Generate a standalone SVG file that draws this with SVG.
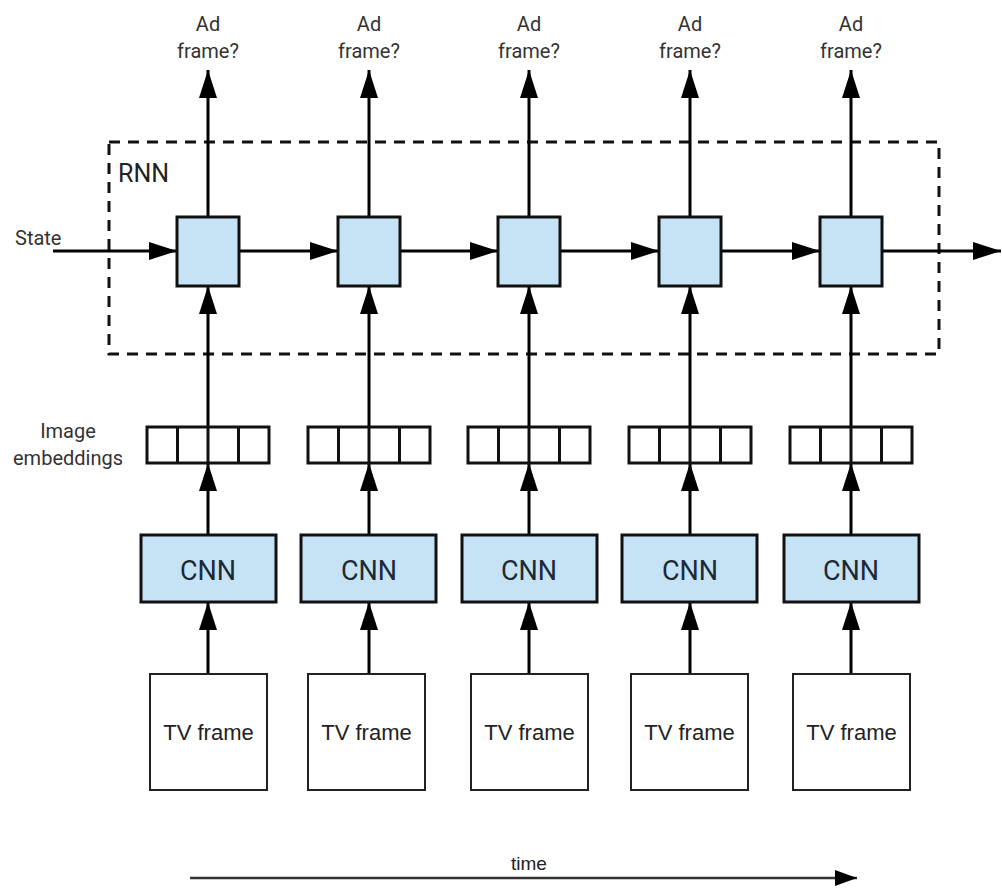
<svg xmlns="http://www.w3.org/2000/svg" width="1002" height="888" viewBox="0 0 1002 888">
<defs>
<style>
.lbl{font-family:Roboto,"Liberation Sans",sans-serif;fill:#333;font-size:20px;text-anchor:middle}
.cnnt{font-family:Roboto,"Liberation Sans",sans-serif;fill:#1c2a38;font-size:27px;text-anchor:middle}
.tv{font-family:"Liberation Sans",Arial,sans-serif;fill:#222;font-size:22px;text-anchor:middle}
.blue{fill:#c6e3f5;stroke:#111;stroke-width:3}
.white{fill:#fff;stroke:#111;stroke-width:3}
.thin{fill:#fff;stroke:#222;stroke-width:2}
.con{stroke:#000;stroke-width:3;fill:none;marker-end:url(#ah)}
</style>
<marker id="ah" markerUnits="userSpaceOnUse" markerWidth="28" markerHeight="20" refX="28" refY="10" orient="auto">
<path d="M0,1 L28,10 L0,19 Z" fill="#000"/>
</marker>
<marker id="ah2" markerUnits="userSpaceOnUse" markerWidth="22" markerHeight="18" refX="22" refY="9" orient="auto">
<path d="M0,1 L22,9 L0,17 Z" fill="#000"/>
</marker>
</defs>
<rect width="1002" height="888" fill="#fff"/>

<g id="rnn-box">
<rect x="109" y="142" width="830" height="212" fill="none" stroke="#111" stroke-width="3" stroke-dasharray="11,8"/>
<text x="118" y="182" font-family="Roboto,'Liberation Sans',sans-serif" font-size="25" fill="#222">RNN</text>
</g>

<g id="connectors">
<line class="con" x1="53" y1="251" x2="177" y2="251"/>
<line class="con" x1="238" y1="251" x2="338" y2="251"/>
<line class="con" x1="400" y1="251" x2="498" y2="251"/>
<line class="con" x1="560" y1="251" x2="659" y2="251"/>
<line class="con" x1="721" y1="251" x2="820" y2="251"/>
<line class="con" x1="882" y1="251" x2="1001" y2="251"/>

<line class="con" x1="208" y1="217" x2="208" y2="70"/>
<line class="con" x1="369" y1="217" x2="369" y2="70"/>
<line class="con" x1="529" y1="217" x2="529" y2="70"/>
<line class="con" x1="690" y1="217" x2="690" y2="70"/>
<line class="con" x1="851" y1="217" x2="851" y2="70"/>

<line class="con" x1="208" y1="445" x2="208" y2="286"/>
<line class="con" x1="369" y1="445" x2="369" y2="286"/>
<line class="con" x1="529" y1="445" x2="529" y2="286"/>
<line class="con" x1="690" y1="445" x2="690" y2="286"/>
<line class="con" x1="851" y1="445" x2="851" y2="286"/>

<line class="con" x1="208" y1="535" x2="208" y2="463"/>
<line class="con" x1="369" y1="535" x2="369" y2="463"/>
<line class="con" x1="529" y1="535" x2="529" y2="463"/>
<line class="con" x1="690" y1="535" x2="690" y2="463"/>
<line class="con" x1="851" y1="535" x2="851" y2="463"/>

<line class="con" x1="208" y1="674" x2="208" y2="602"/>
<line class="con" x1="369" y1="674" x2="369" y2="602"/>
<line class="con" x1="529" y1="674" x2="529" y2="602"/>
<line class="con" x1="690" y1="674" x2="690" y2="602"/>
<line class="con" x1="851" y1="674" x2="851" y2="602"/>

<line x1="190" y1="878" x2="857" y2="878" stroke="#333" stroke-width="2.5" marker-end="url(#ah2)"/>
</g>

<g id="labels">
<text class="lbl" x="208" y="31">Ad</text><text class="lbl" x="208" y="58">frame?</text>
<text class="lbl" x="369" y="31">Ad</text><text class="lbl" x="369" y="58">frame?</text>
<text class="lbl" x="529" y="31">Ad</text><text class="lbl" x="529" y="58">frame?</text>
<text class="lbl" x="690" y="31">Ad</text><text class="lbl" x="690" y="58">frame?</text>
<text class="lbl" x="851" y="31">Ad</text><text class="lbl" x="851" y="58">frame?</text>
<text class="lbl" x="15" y="245" style="text-anchor:start">State</text>
<text class="lbl" x="68" y="438">Image</text>
<text class="lbl" x="68" y="465">embeddings</text>
<text x="529" y="870" font-family="'Liberation Sans',Arial,sans-serif" font-size="19" fill="#222" text-anchor="middle">time</text>
</g>

<g id="rnn-cells">
<rect class="blue" x="177" y="217" width="62" height="69"/>
<rect class="blue" x="338" y="217" width="62" height="69"/>
<rect class="blue" x="498" y="217" width="62" height="69"/>
<rect class="blue" x="659" y="217" width="62" height="69"/>
<rect class="blue" x="820" y="217" width="62" height="69"/>
</g>

<g id="embeddings">
<g id="emb1"><rect class="white" x="147" y="427" width="122" height="36"/><path d="M177.5,427V463M208,427V463M238.5,427V463" stroke="#111" stroke-width="3"/></g>
<g id="emb2"><rect class="white" x="308" y="427" width="122" height="36"/><path d="M338.5,427V463M369,427V463M399.5,427V463" stroke="#111" stroke-width="3"/></g>
<g id="emb3"><rect class="white" x="468" y="427" width="122" height="36"/><path d="M498.5,427V463M529,427V463M559.5,427V463" stroke="#111" stroke-width="3"/></g>
<g id="emb4"><rect class="white" x="629" y="427" width="122" height="36"/><path d="M659.5,427V463M690,427V463M720.5,427V463" stroke="#111" stroke-width="3"/></g>
<g id="emb5"><rect class="white" x="790" y="427" width="122" height="36"/><path d="M820.5,427V463M851,427V463M881.5,427V463" stroke="#111" stroke-width="3"/></g>
</g>

<g id="cnns">
<g id="cnn1"><rect class="blue" x="141" y="535" width="135" height="67"/><text class="cnnt" x="208" y="580">CNN</text></g>
<g id="cnn2"><rect class="blue" x="301" y="535" width="135" height="67"/><text class="cnnt" x="369" y="580">CNN</text></g>
<g id="cnn3"><rect class="blue" x="462" y="535" width="135" height="67"/><text class="cnnt" x="529" y="580">CNN</text></g>
<g id="cnn4"><rect class="blue" x="622" y="535" width="135" height="67"/><text class="cnnt" x="690" y="580">CNN</text></g>
<g id="cnn5"><rect class="blue" x="784" y="535" width="135" height="67"/><text class="cnnt" x="851" y="580">CNN</text></g>
</g>

<g id="tvframes">
<g id="tv1"><rect class="thin" x="150" y="674" width="117" height="116"/><text class="tv" x="208.5" y="740">TV frame</text></g>
<g id="tv2"><rect class="thin" x="308" y="674" width="117" height="116"/><text class="tv" x="366.5" y="740">TV frame</text></g>
<g id="tv3"><rect class="thin" x="471" y="674" width="117" height="116"/><text class="tv" x="529.5" y="740">TV frame</text></g>
<g id="tv4"><rect class="thin" x="631" y="674" width="117" height="116"/><text class="tv" x="689.5" y="740">TV frame</text></g>
<g id="tv5"><rect class="thin" x="793" y="674" width="117" height="116"/><text class="tv" x="851.5" y="740">TV frame</text></g>
</g>
</svg>
